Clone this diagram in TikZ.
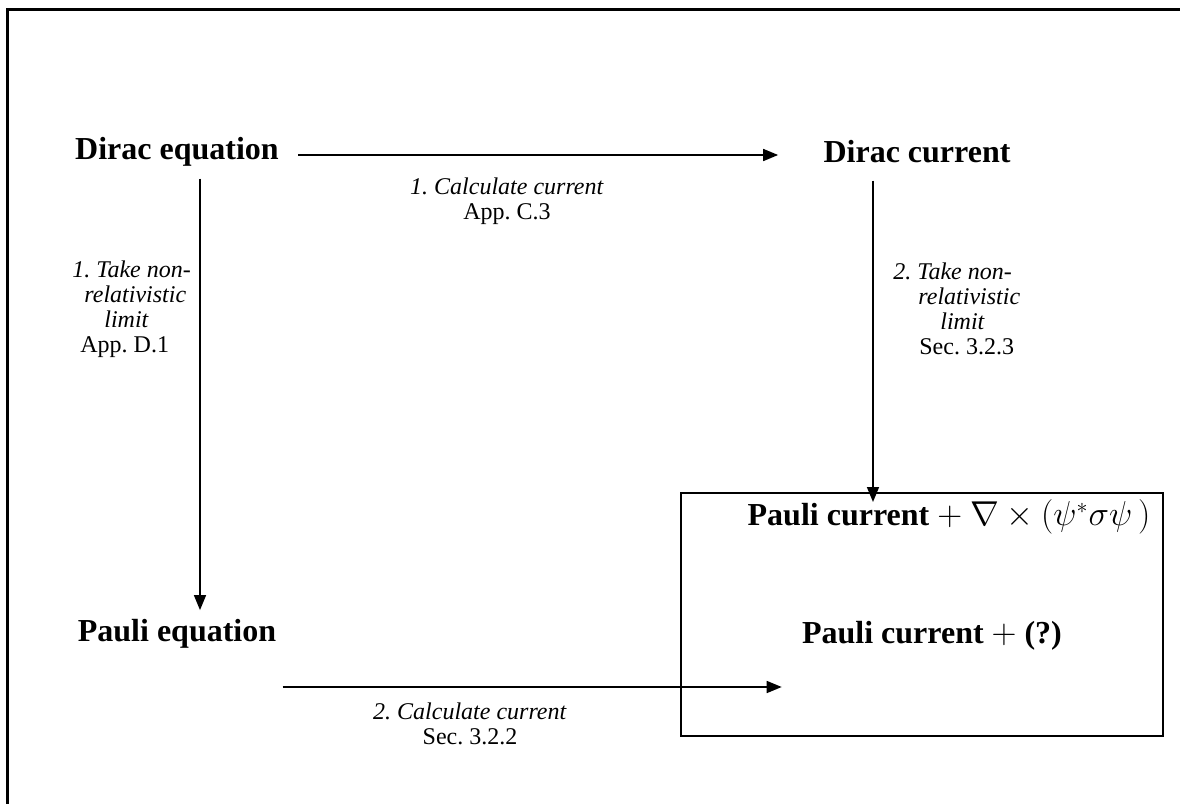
\documentclass[tikz,border=0pt]{standalone}
\usepackage{fontspec}
\setmainfont{Liberation Serif}
\usetikzlibrary{arrows.meta}
\frenchspacing
\begin{document}
\begin{tikzpicture}[x=0.5pt,y=-0.5pt,
  big/.style={font=\fontsize{16}{19}\selectfont\bfseries, inner sep=0pt},
  lab/.style={font=\fontsize{12}{12.5}\selectfont, align=center, inner sep=0pt},
  lableft/.style={font=\fontsize{12}{12.5}\selectfont, align=left, inner sep=0pt},
  arr/.style={line width=0.8pt, -{Triangle[length=7.5pt,width=6pt]}},
]
\useasboundingbox (0,0) rectangle (1180,804);
\clip (0,0) rectangle (1180,804);
\draw[line width=1.5pt] (7,9) rectangle (1200,830);

\node[big] (de) at (177,152) {Dirac equation};
\node[big] (dc) at (917,152) {Dirac current};
\node[big] (pe) at (177,634) {Pauli equation};
\node[draw, line width=1pt, minimum width=241pt, minimum height=121.5pt, inner sep=0pt] (box) at (922,614.5) {};
\node[big] (pc1) at (949,517) {Pauli current $+$ $\nabla\times(\psi^{*}\sigma\psi\,)$};
\node[big] (pc2) at (932,636) {Pauli current $+$ (?)};

\node[lab] (l1) at (507,201) {\textit{1. Calculate current}\\App. C.3};
\node[lableft, anchor=west] (l2) at (72,309) {\textit{1. Take non-}\\\hspace*{6pt}\textit{relativistic}\\\hspace*{16pt}\textit{limit}\\\hspace*{4pt}App. D.1};
\node[lableft, anchor=west] (l3) at (893,309) {\textit{2. Take non-}\\\hspace*{12.5pt}\textit{relativistic}\\\hspace*{23.5pt}\textit{limit}\\\hspace*{13pt}Sec. 3.2.3};
\node[lab] (l4) at (470,724) {\textit{2. Calculate current}\\Sec. 3.2.2};

\draw[arr, shorten <=9.5pt, shorten >=22.5pt] ([yshift=-1.5pt]de.east) -- ([yshift=-1.5pt]dc.west);
\draw[arr, shorten <=5.8pt, shorten >=4.5pt] ([xshift=11.5pt]de.south) -- ([xshift=11.5pt]pe.north);
\draw[arr, shorten <=8.5pt, shorten >=-5pt] ([xshift=-22pt]dc.south) -- ([xshift=-22pt]dc.south |- box.north);
\path ([shift={(6,53)}]pe.east) coordinate (b0);
\draw[arr, shorten >=10pt] (b0) -- (b0 -| pc2.west);
\end{tikzpicture}
\end{document}
